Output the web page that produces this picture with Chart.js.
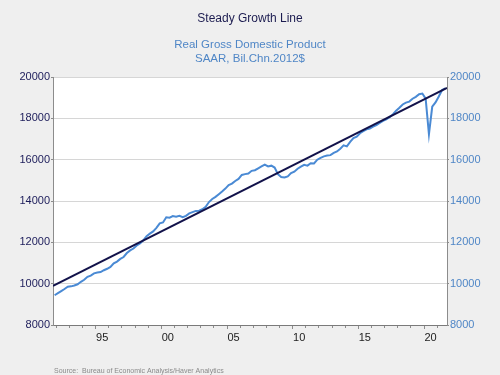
<!DOCTYPE html>
<html>
<head>
<meta charset="utf-8">
<script src="https://cdn.jsdelivr.net/npm/chart.js@4/dist/chart.umd.min.js"></script>
<style>
html,body{margin:0;padding:0;background:#efefef;}
#wrap{width:500px;height:375px;position:relative;}
</style>
</head>
<body>
<div id="wrap"><canvas id="c" width="500" height="375"></canvas></div>
<script>
// Quarterly observations, 1991Q4 .. 2021Q3
const quarterLabels = [
 "1991Q4",
 "1992Q1","1992Q2","1992Q3","1992Q4",
 "1993Q1","1993Q2","1993Q3","1993Q4",
 "1994Q1","1994Q2","1994Q3","1994Q4",
 "1995Q1","1995Q2","1995Q3","1995Q4",
 "1996Q1","1996Q2","1996Q3","1996Q4",
 "1997Q1","1997Q2","1997Q3","1997Q4",
 "1998Q1","1998Q2","1998Q3","1998Q4",
 "1999Q1","1999Q2","1999Q3","1999Q4",
 "2000Q1","2000Q2","2000Q3","2000Q4",
 "2001Q1","2001Q2","2001Q3","2001Q4",
 "2002Q1","2002Q2","2002Q3","2002Q4",
 "2003Q1","2003Q2","2003Q3","2003Q4",
 "2004Q1","2004Q2","2004Q3","2004Q4",
 "2005Q1","2005Q2","2005Q3","2005Q4",
 "2006Q1","2006Q2","2006Q3","2006Q4",
 "2007Q1","2007Q2","2007Q3","2007Q4",
 "2008Q1","2008Q2","2008Q3","2008Q4",
 "2009Q1","2009Q2","2009Q3","2009Q4",
 "2010Q1","2010Q2","2010Q3","2010Q4",
 "2011Q1","2011Q2","2011Q3","2011Q4",
 "2012Q1","2012Q2","2012Q3","2012Q4",
 "2013Q1","2013Q2","2013Q3","2013Q4",
 "2014Q1","2014Q2","2014Q3","2014Q4",
 "2015Q1","2015Q2","2015Q3","2015Q4",
 "2016Q1","2016Q2","2016Q3","2016Q4",
 "2017Q1","2017Q2","2017Q3","2017Q4",
 "2018Q1","2018Q2","2018Q3","2018Q4",
 "2019Q1","2019Q2","2019Q3","2019Q4",
 "2020Q1","2020Q2","2020Q3","2020Q4",
 "2021Q1","2021Q2","2021Q3"
];
// Real GDP, SAAR, Bil. Chn. 2012$
const realGDP = [
 9440,
 9540,9640,9740,9850,
 9870,9910,9970,10090,
 10190,10330,10390,10500,
 10540,10560,10650,10720,
 10810,10980,11070,11200,
 11290,11480,11610,11700,
 11850,11950,12100,12300,
 12420,12530,12700,12920,
 12960,13210,13190,13270,
 13240,13280,13220,13280,
 13400,13460,13520,13530,
 13600,13720,13950,14100,
 14200,14330,14460,14600,
 14770,14840,14970,15070,
 15260,15300,15330,15460,
 15490,15580,15670,15760,
 15670,15710,15620,15300,
 15160,15140,15190,15350,
 15420,15560,15660,15750,
 15710,15830,15820,16000,
 16090,16160,16200,16220,
 16330,16400,16530,16690,
 16640,16860,17040,17110,
 17280,17380,17470,17510,
 17600,17670,17780,17880,
 17950,18060,18190,18370,
 18510,18670,18760,18810,
 18950,19040,19170,19200,
 18950,17230,18560,18770,
 19060,19370,19450
];
// Steady growth line endpoints
const trendDates = [1991.75, 2021.75];
const trendValues = [9890, 19470];
// Axis ticks
const yTicks = [8000, 10000, 12000, 14000, 16000, 18000, 20000];
const xLabelYears = [1995, 2000, 2005, 2010, 2015, 2020];
const xLabelText = ["95", "00", "05", "10", "15", "20"];

const FONT = "'Liberation Sans', Arial, sans-serif";

function quarterToX(lbl) {
  const y = parseInt(lbl.slice(0, 4), 10);
  const q = parseInt(lbl.slice(5), 10);
  return y + (q - 1) / 4 + 0.125;
}
const gdpPoints = quarterLabels.map((l, i) => ({x: quarterToX(l), y: realGDP[i]}));
const trendPoints = trendDates.map((d, i) => ({x: d, y: trendValues[i]}));

const bgPlugin = {
  id: 'bg',
  beforeDraw(chart) {
    const ctx = chart.ctx, a = chart.chartArea;
    ctx.save();
    ctx.fillStyle = '#efefef';
    ctx.fillRect(0, 0, chart.width, chart.height);
    ctx.fillStyle = '#ffffff';
    ctx.fillRect(a.left, a.top, a.right - a.left, a.bottom - a.top);
    ctx.restore();
  },
  afterDraw(chart) {
    const ctx = chart.ctx;
    ctx.save();
    ctx.fillStyle = '#8a8a8a';
    ctx.font = "7px " + FONT;
    ctx.textBaseline = 'middle';
    ctx.textAlign = 'left';
    ctx.fillText('Source:  Bureau of Economic Analysis/Haver Analytics', 54, 371);
    ctx.restore();
  }
};

const plainNum = v => String(v);

new Chart(document.getElementById('c'), {
  type: 'line',
  data: {
    datasets: [
      {
        label: 'Steady Growth Line',
        data: trendPoints,
        borderColor: '#12124a',
        borderWidth: 2,
        pointRadius: 0,
        tension: 0,
        yAxisID: 'y'
      },
      {
        label: 'Real Gross Domestic Product',
        data: gdpPoints,
        borderColor: '#4a8ad4',
        borderWidth: 2,
        pointRadius: 0,
        tension: 0,
        yAxisID: 'y'
      }
    ]
  },
  plugins: [bgPlugin],
  options: {
    responsive: false,
    animation: false,
    devicePixelRatio: 1,
    layout: {padding: {left: 0, right: 0, top: 0, bottom: 0}},
    plugins: {
      legend: {display: false},
      tooltip: {enabled: false},
      title: {
        display: true,
        text: 'Steady Growth Line',
        color: '#1c1c50',
        font: {family: FONT, size: 12, weight: 'normal', lineHeight: 1.2},
        padding: {top: 11, bottom: 13}
      },
      subtitle: {
        display: true,
        text: ['Real Gross Domestic Product', 'SAAR, Bil.Chn.2012$'],
        color: '#4f86c6',
        font: {family: FONT, size: 11.5, weight: 'normal', lineHeight: 1.2},
        padding: {top: 0, bottom: 11}
      }
    },
    scales: {
      x: {
        type: 'linear',
        min: 1991.75,
        max: 2021.75,
        afterBuildTicks(scale) {
          const t = [];
          for (let yr = 1992; yr <= 2021; yr++) t.push({value: yr});
          scale.ticks = t;
        },
        afterFit(scale) { scale.height = 50; },
        ticks: {
          autoSkip: false,
          maxRotation: 0,
          labelOffset: 6.5,
          padding: 2,
          color: '#222222',
          font: {family: FONT, size: 11},
          callback(v) {
            const k = xLabelYears.indexOf(Math.round(v));
            return (k >= 0 && Math.abs(v - Math.round(v)) < 1e-6) ? xLabelText[k] : '';
          }
        },
        grid: {
          drawOnChartArea: false,
          drawTicks: true,
          tickLength: 4,
          tickColor: '#8c8c8c',
          tickBorderDash(ctx) {
            const v = ctx.tick ? ctx.tick.value : 0;
            return (v % 5 === 0) ? [] : [2, 10];
          }
        },
        border: {display: true, color: '#7a7a7a', width: 1}
      },
      y: {
        type: 'linear',
        position: 'left',
        min: 8000,
        max: 20000,
        afterBuildTicks(scale) { scale.ticks = yTicks.map(v => ({value: v})); },
        afterFit(scale) { scale.width = 53; },
        ticks: {
          color: '#1c1c5a',
          font: {family: FONT, size: 11},
          padding: 1,
          callback: plainNum
        },
        grid: {
          color: '#d6d6d6',
          lineWidth: 1,
          drawTicks: true,
          tickLength: 2,
          tickColor: '#8c8c8c'
        },
        border: {display: true, color: '#8c8c8c', width: 1}
      },
      y2: {
        type: 'linear',
        position: 'right',
        min: 8000,
        max: 20000,
        afterBuildTicks(scale) { scale.ticks = yTicks.map(v => ({value: v})); },
        afterFit(scale) { scale.width = 53; },
        ticks: {
          color: '#4f86c6',
          font: {family: FONT, size: 11},
          padding: 1,
          callback: plainNum
        },
        grid: {
          drawOnChartArea: false,
          drawTicks: true,
          tickLength: 2,
          tickColor: '#8c8c8c'
        },
        border: {display: true, color: '#8c8c8c', width: 1}
      }
    }
  }
});
</script>
</body>
</html>
